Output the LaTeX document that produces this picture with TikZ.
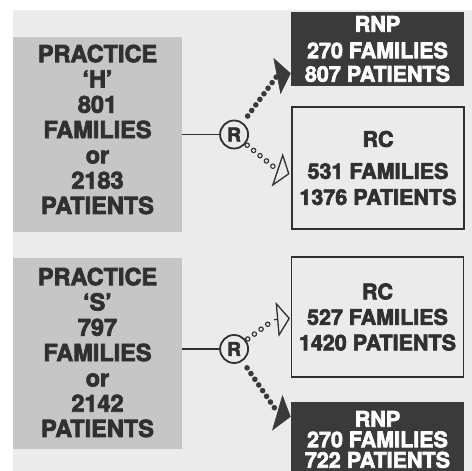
\documentclass[tikz,border=0pt]{standalone}
\usepackage{fontspec}
\setmainfont{TeX Gyre Heros}[BoldFeatures={FakeBold=3}]
\usetikzlibrary{positioning, arrows.meta}
\definecolor{bgcol}{RGB}{235,235,235}
\definecolor{boxcol}{RGB}{198,198,198}
\definecolor{darkcol}{RGB}{58,58,58}
\definecolor{ink}{RGB}{48,48,48}
\tikzset{
    x=1pt, y=-1pt, % one unit is one pixel of the layout, y runs downwards
    practice/.style={fill=boxcol, minimum width=169pt}, % grey practice boxes
    ptext/.style={text=ink, align=center, font=\fontsize{23.5}{25.3}\selectfont\bfseries}, % the text on them
    rnp/.style={fill=darkcol, text=white, minimum width=173pt, align=center, font=\fontsize{21.5}{23.5}\selectfont\bfseries}, % dark RNP boxes
    rc/.style={draw=ink, line width=1.1pt, text=ink, minimum width=172pt, align=center, font=\fontsize{21.5}{25.5}\selectfont\bfseries}, % open RC boxes
    rand/.style={circle, draw=ink, line width=1.8pt, text=ink, minimum size=28pt, inner sep=0pt, font=\fontsize{19}{19}\selectfont\bfseries}, % the circled R
    dotsfull/.style={draw=darkcol, line width=5.6pt, line cap=round, dash pattern=on 0pt off 6.9pt, shorten <=8pt},
    dotsopen/.style={draw=ink, line width=5.6pt, line cap=round, dash pattern=on 0pt off 8.3pt, shorten <=2pt,
        postaction={draw=bgcol, line width=3.4pt, line cap=round, dash pattern=on 0pt off 8.3pt, shorten <=2pt}},
    headfull/.style={-{Triangle[length=14pt, width=37pt]}, draw=darkcol, line width=0.6pt},
    headopen/.style={-{Triangle[open, length=13pt, width=35pt]}, draw=ink, line width=1.3pt},
}

\begin{document}
\begin{tikzpicture}
    \useasboundingbox (0,0) rectangle (472,471);
    \fill[bgcol] (13,10) rectangle (472,471);

    \node[practice, minimum height=195pt,
          label={[ptext, yshift=5pt]center:PRACTICE\\‘H’\\801\\FAMILIES\\or\\2183\\PATIENTS}] (PH) at (97.5,134.5) {};
    \node[practice, minimum height=191pt,
          label={[ptext, yshift=1pt]center:PRACTICE\\‘S’\\797\\FAMILIES\\or\\2142\\PATIENTS}] (PS) at (97.5,353.5) {};

    \node[rand, right=37pt of PH] (R1) {R};
    \node[rand, right=37pt of PS, yshift=4.5pt] (R2) {R};

    \node[rnp, minimum height=74pt] (RNP1) at (377.5,49) {RNP\\[3pt]270 FAMILIES\\807 PATIENTS};
    \node[rc, minimum height=122pt, font=\fontsize{21.5}{26}\selectfont\bfseries] (RC1) at (378,168) {RC\\[6pt]531 FAMILIES\\1376 PATIENTS};
    \node[rc, minimum height=120pt] (RC2) at (377.5,317) {RC\\527 FAMILIES\\1420 PATIENTS};
    \node[rnp, minimum height=80pt,
          label={[rnp, fill=none, yshift=2.5pt, font=\fontsize{21.5}{20.5}\selectfont\bfseries]center:RNP\\270 FAMILIES\\722 PATIENTS}] (RNP2) at (377.5,442) {};

    % ends of the dotted arrows
    \coordinate (b1) at (277,76);      \coordinate (t1) at (290.7,73.3);
    \coordinate (b2) at (277.5,170);   \coordinate (t2) at (289.5,174);
    \coordinate (b3) at (274,319.7);   \coordinate (t3) at (290,318.3);
    \coordinate (b4) at (278,413);     \coordinate (t4) at (290.7,416.7);

    \draw[ink, line width=1.4pt] (R1 -| PH.east) -- (R1);
    \draw[ink, line width=1.4pt] (R2 -| PS.east) -- (R2);

    \draw[dotsfull] (R1) -- (b1);
    \draw[headfull] (b1) -- (t1);
    \draw[dotsopen] (R1) -- (b2);
    \draw[headopen] (b2) -- (t2);
    \draw[dotsopen] (R2) -- (b3);
    \draw[headopen] (b3) -- (t3);
    \draw[dotsfull] (R2) -- (b4);
    \draw[headfull] (b4) -- (t4);
\end{tikzpicture}
\end{document}
